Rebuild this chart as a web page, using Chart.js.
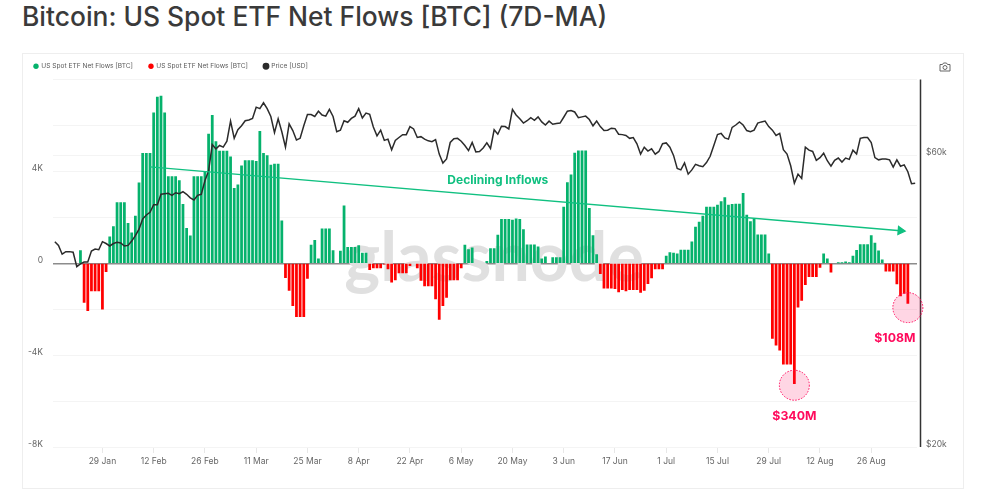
<!DOCTYPE html>
<html>
<head>
<meta charset="utf-8">
<title>Bitcoin: US Spot ETF Net Flows</title>
<script src="https://cdn.jsdelivr.net/npm/chart.js@4/dist/chart.umd.min.js"></script>
<style>
    html, body { margin: 0; padding: 0; background: #fff; width: 984px; height: 500px; overflow: hidden; }
    h1 { position: absolute; left: 22px; top: 0; margin: 0; font: 500 26.4px/33px Inter, sans-serif; color: #3a3a3a; white-space: nowrap; }
    #card { position: absolute; left: 22px; top: 53px; width: 940px; height: 434px; border: 1px solid #eeeeee; }
    #camera { position: absolute; left: 939px; top: 62px; }
    #wrap { position: absolute; left: 0; top: 0; width: 984px; height: 500px; }
</style>
</head>
<body>
<h1>Bitcoin: US Spot ETF Net Flows [BTC] (7D-MA)</h1>
<div id="card"></div>
<svg id="camera" width="12" height="10" viewBox="0 0 12 10" fill="none" stroke="#666" stroke-width="1">
    <path d="M1 2.5h2.5l1-1.5h3l1 1.5H11v6.5H1z"/><circle cx="6" cy="5.5" r="2"/>
</svg>
<div id="wrap"><canvas id="chart" width="984" height="500"></canvas></div>
<script>
(function () {
    var tickLabels = ['29 Jan', '12 Feb', '26 Feb', '11 Mar', '25 Mar', '8 Apr', '22 Apr', '6 May', '20 May',
        '3 Jun', '17 Jun', '1 Jul', '15 Jul', '29 Jul', '12 Aug', '26 Aug'];

    // daily, 16 Jan to 7 Sep, thousands of BTC
    var netFlows = [
        0, 0, 0, 0, 0, 0, 0, 0.55, -1.7, -2.06, -1.2, -1.2, -1.2, -2.0, -0.36,
        1.15, 1.6, 2.64, 2.64, 2.64, 1.74, 1.33, 2.06, 3.5, 4.79, 4.79, 4.79, 6.55, 7.24, 7.28, 6.55,
        3.78, 3.78, 3.78, 3.6, 2.57, 1.52, 1.2, 3.78, 3.78, 3.78, 3.96, 5.63, 6.44, 5.3,
        4.89, 4.89, 4.89, 4.64, 3.26, 3.42, 4.25, 4.47, 4.47, 4.47, 4.44, 5.75, 4.79, 4.69, 4.28, 4.32, 4.32, 1.85,
        -0.63, -1.18, -1.85, -2.32, -2.32, -2.32, -0.66, 0.79, 1.0, 0.2, 1.5, 1.5, 1.5, 0.55, 0, 0.53,
        2.5, 0.7, 0.7, 0.7, 0.77, 0.45, 0.45, -0.28, -0.2, -0.2, -0.2, -0.03, -0.25, -0.82, -0.72, -0.42, -0.42, -0.42,
        -0.1, 0, -0.2, -0.75, -0.98, -0.98, -0.98, -1.55, -2.44, -1.85, -1.49, -0.72, -0.72, -0.72, -0.2,
        0.79, 0.6, 0.67, 0, 0, 0, 0.09, 0.64, 0.64, 1.23, 1.91, 1.91, 1.91, 1.88, 1.94, 1.91, 1.47, 0.8, 0.8, 0.8, 0.72,
        0.2, 0.28, 0, 0.25, 0.25, 0.25, 2.45, 3.52, 3.85, 4.8, 4.9, 4.9, 4.9, 2.39, 1.21, 0.38,
        -0.45, -1.08, -1.08, -1.08, -1.1, -1.25, -1.15, -1.2, -1.15, -1.15, -1.15, -1.27, -1.18, -0.89, -0.64,
        -0.25, -0.25, -0.25, 0.31, 0.47, 0.44, 0.41, 0.58, 0.58, 0.58, 0.93, 1.58, 1.8, 2.06, 2.45, 2.45, 2.45,
        2.53, 2.69, 2.86, 2.54, 2.57, 2.58, 2.58, 3.05, 2.1, 1.82, 1.93, 1.24, 1.24, 1.24, 0.41,
        -3.27, -3.56, -3.78, -4.39, -4.39, -4.39, -5.24, -1.91, -1.62, -0.93, -0.58, -0.58, -0.58, -0.18,
        0.41, 0.19, -0.39, 0, 0.02, 0.02, 0.06, 0.02, 0.31, 0.57, 0.82, 0.82, 0.82, 1.21, 0.88, 0.54, 0.15,
        -0.34, -0.34, -0.34, -0.9, -1.42, -1.31, -1.75
    ];

    // thousands of USD
    var price = [
        43.4, 42.8, 41.4, 41.8, 41.8, 41.7, 39.5, 39.9, 40.2, 40.2, 41.9, 42.2, 42.1, 43.4, 43.1, 42.7, 43.1, 43.3, 43.2, 42.7,
        42.8, 43.5, 44.4, 45.5, 47.3, 48, 48.5, 49.9, 49.9, 51.9, 52, 52.1, 51.7, 52.2, 52, 52.4, 51.9, 51.2, 50.8, 51.7,
        51.9, 54.6, 56.7, 62.6, 61.6, 62.4, 62, 63.4, 68.4, 64.1, 66.2, 67.2, 68.5, 68.7, 69.1, 72.1, 71.7, 73.3, 71.7, 69.6,
        65.5, 69, 65.7, 62, 67.7, 66, 63.7, 64.1, 67.2, 70.1, 70.1, 69.6, 71, 70, 69.7, 71.5, 69.6, 65.7,
        66.1, 68.5, 68.1, 69.1, 69.7, 71.7, 69.2, 70.5, 70.2, 66.9, 64.7, 66.1, 63.6, 63.9, 61.4, 63.6, 64.3, 65, 65, 67, 66.4, 64.3,
        64.5, 63.9, 63.5, 63.3, 63.8, 60.4, 58.4, 59.3, 63.1, 64, 64.1, 63.4, 62.4, 61.2, 63.1, 60.9, 61, 61.8, 63, 61.7,
        66.2, 65.1, 67.1, 67, 66.4, 71.5, 70, 69, 67.9, 68.5, 69.3, 68.6, 69.5, 68.2, 67.4, 68.4, 67.6, 67.8, 67.9, 69.4,
        71, 71.2, 70.8, 69.3, 69.5, 69.7, 68.8, 67.2, 68.4, 67, 66, 66.1, 66.6, 66.5, 65.1, 65, 64.8, 64.1, 64.3, 62.8, 60.4, 62,
        61.1, 61.6, 60.4, 61, 62.8, 63, 62, 60.1, 57.2, 56.9, 58.4, 56, 56.9, 58.1, 57.8, 57.6, 58.5, 59.9, 62.4, 65, 65.3, 64.2,
        63.9, 66.8, 67.4, 68.2, 67.4, 66, 65.7, 66.1, 67.9, 68.2, 68.4, 67, 66.1, 64.8, 65.3, 61.4, 60.4, 57.8, 54.1, 56, 55.1, 62,
        61.3, 61, 59, 59.6, 60.6, 58.9, 57.7, 59, 59.5, 58.6, 59.5, 59.2, 61.3, 60.4, 64.1, 64.3, 64.3, 63.1, 59.6, 59.1, 59.3, 59.3,
        59.1, 57.5, 59.1, 57.7, 58, 56.5, 54, 54.1
    ];

    var months = ['Jan', 'Feb', 'Mar', 'Apr', 'May', 'Jun', 'Jul', 'Aug', 'Sep'];
    var days = price.map(function (p, i) {
        var d = new Date(Date.UTC(2024, 0, 16 + i));
        return d.getUTCDate() + ' ' + months[d.getUTCMonth()];
    });

    var trendDays = ['11 Feb', '3 Sep'];
    var trendValues = [4.2, 1.42];
    var calloutDays = ['5 Aug', '5 Sep'];
    var calloutValues = [-5.31, -1.93];
    var calloutTexts = ['$340M', '$108M'];
    var calloutShift = [0, -13];

    var GREEN = '#05b26c', RED = '#ff0000', PINK = '#ff0a5c', TREND = '#10c080', GREY = '#666666';
    var FONT = 'Inter, sans-serif';

    var decorations = {
        id: 'decorations',
        beforeDatasetsDraw: function (chart) {
            var ctx = chart.ctx;
            ctx.save();
            ctx.font = '700 68px Lato, sans-serif';
            ctx.fillStyle = '#e0e0e0';
            ctx.textAlign = 'center';
            ctx.textBaseline = 'alphabetic';
            ctx.fillText('glassnode', 494, 281);
            ctx.restore();
        },
        afterDatasetsDraw: function (chart) {
            var ctx = chart.ctx, x = chart.scales.x, y = chart.scales.y, area = chart.chartArea;
            ctx.save();
            // right axis sits a little outside the plot
            ctx.strokeStyle = '#333';
            ctx.lineWidth = 1.5;
            ctx.beginPath();
            ctx.moveTo(area.right + 3.5, area.top);
            ctx.lineTo(area.right + 3.5, area.bottom);
            ctx.stroke();

            calloutDays.forEach(function (day, i) {
                var cx = x.getPixelForValue(x.getLabels().indexOf(day));
                var cy = y.getPixelForValue(calloutValues[i]);
                ctx.beginPath();
                ctx.arc(cx, cy, 15, 0, Math.PI * 2);
                ctx.fillStyle = 'rgba(255, 10, 92, 0.17)';
                ctx.fill();
                ctx.setLineDash([1.5, 1.5]);
                ctx.lineWidth = 1;
                ctx.strokeStyle = PINK;
                ctx.stroke();
                ctx.setLineDash([]);
                ctx.font = '700 12.3px ' + FONT;
                ctx.fillStyle = PINK;
                ctx.textAlign = 'center';
                ctx.textBaseline = 'middle';
                ctx.fillText(calloutTexts[i], cx + calloutShift[i], cy + 31);
            });

            ctx.font = '700 12px ' + FONT;
            ctx.fillStyle = TREND;
            ctx.textAlign = 'center';
            ctx.textBaseline = 'middle';
            ctx.fillText('Declining Inflows', x.getPixelForValue(days.indexOf('16 May')), y.getPixelForValue(3.6));
            ctx.restore();
        }
    };

    new Chart(document.getElementById('chart'), {
        type: 'bar',
        plugins: [decorations],
        data: {
            labels: days,
            datasets: [
                {
                    label: 'US Spot ETF Net Flows [BTC]',
                    data: netFlows.map(function (v) { return v > 0 ? v : null; }),
                    backgroundColor: GREEN,
                    barThickness: 2.1,
                    grouped: false,
                    order: 2,
                    yAxisID: 'y'
                },
                {
                    label: 'US Spot ETF Net Flows [BTC]',
                    data: netFlows.map(function (v) { return v < 0 ? v : null; }),
                    backgroundColor: RED,
                    barThickness: 2.1,
                    grouped: false,
                    order: 3,
                    yAxisID: 'y'
                },
                {
                    type: 'line',
                    label: 'Price [USD]',
                    data: price.map(function (v) { return v * 1000; }),
                    borderColor: '#2b2b2b',
                    backgroundColor: '#2b2b2b',
                    borderWidth: 1.5,
                    pointRadius: 0,
                    tension: 0,
                    order: 1,
                    yAxisID: 'y1'
                },
                {
                    type: 'line',
                    label: 'trend',
                    data: trendDays.map(function (d, i) { return { x: d, y: trendValues[i] }; }),
                    borderColor: TREND,
                    backgroundColor: TREND,
                    borderWidth: 1.4,
                    pointStyle: 'triangle',
                    pointRadius: [0, 4.5],
                    pointRotation: 95,
                    order: 0,
                    yAxisID: 'y'
                }
            ]
        },
        options: {
            responsive: false,
            animation: false,
            layout: { padding: { left: 18, right: 0, top: 47, bottom: 0 } },
            plugins: {
                title: { display: false },
                tooltip: { enabled: false },
                legend: {
                    position: 'top',
                    align: 'start',
                    labels: {
                        usePointStyle: true,
                        pointStyle: 'circle',
                        boxWidth: 4,
                        boxHeight: 3.8,
                        padding: 16,
                        color: '#5a5a5a',
                        font: { family: FONT, size: 6.6 },
                        filter: function (item) { return item.datasetIndex < 3; },
                        sort: function (a, b) { return a.datasetIndex - b.datasetIndex; }
                    }
                }
            },
            scales: {
                x: {
                    grid: { offset: false, drawOnChartArea: false, drawTicks: true, tickLength: 6, tickColor: '#e8e8e8' },
                    border: { display: false },
                    afterBuildTicks: function (axis) {
                        axis.ticks = axis.ticks.filter(function (t) { return tickLabels.indexOf(days[t.value]) >= 0; });
                    },
                    afterFit: function (axis) { axis.height = 53; },
                    ticks: {
                        autoSkip: false,
                        maxRotation: 0,
                        padding: 3,
                        color: GREY,
                        font: { family: FONT, size: 8.5 }
                    }
                },
                y: {
                    min: -8,
                    max: 8,
                    grid: {
                        color: function (c) { return c.tick.value === 0 ? '#8c8c8c' : (c.tick.value === -8 ? '#e8e8e8' : '#f4f4f4'); },
                        lineWidth: function (c) { return c.tick.value === 0 ? 1.5 : 1; },
                        drawTicks: false
                    },
                    border: { display: false },
                    afterFit: function (axis) { axis.width = 35; },
                    ticks: {
                        stepSize: 2,
                        padding: 10,
                        labelOffset: -3,
                        color: GREY,
                        font: { family: FONT, size: 8.5 },
                        callback: function (v) {
                            if (v === 0) return '0';
                            return (v % 4 === 0 && v !== 8) ? v + 'K' : '';
                        }
                    }
                },
                y1: {
                    type: 'logarithmic',
                    position: 'right',
                    min: 20000,
                    max: 80000,
                    grid: { color: '#f4f4f4', drawTicks: false },
                    border: { display: false },
                    afterBuildTicks: function (axis) {
                        axis.ticks = [{ value: 20000 }, { value: 60000 }];
                    },
                    afterFit: function (axis) { axis.width = 67; },
                    ticks: {
                        padding: 9,
                        labelOffset: -3,
                        color: GREY,
                        font: { family: FONT, size: 8.5 },
                        callback: function (v) { return '$' + v / 1000 + 'k'; }
                    }
                }
            }
        }
    });
})();
</script>
</body>
</html>
